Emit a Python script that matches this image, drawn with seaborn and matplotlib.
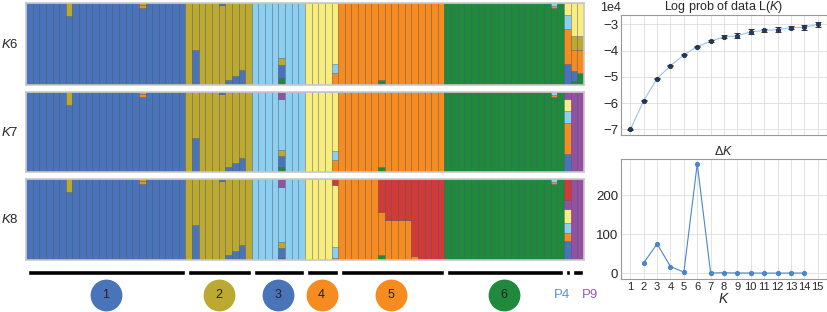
import numpy as np
import pandas as pd
import matplotlib
matplotlib.use("Agg")
import matplotlib.pyplot as plt
import seaborn as sns

# cluster colours (STRUCTURE clusters)
cluster_names = ["blue", "olive", "skyblue", "yellow", "orange", "green", "purple", "red"]
cluster_colors = ["#4a74b9", "#bba931", "#8dcff1", "#f8ee80", "#f68b20", "#1f8a3c", "#9351a0", "#d13b37"]
palette = dict(zip(cluster_names, cluster_colors))

# groups along the bottom
group_labels = ["1", "2", "3", "4", "5", "6", "P4", "P9"]
group_sizes = [24, 10, 8, 5, 16, 18, 1, 2]
circle_colors = ["blue", "olive", "blue", "orange", "orange", "green"]
text_colors = {"P4": "#5b8fd3", "P9": "#9b59b6"}

main_k6 = ["blue", "olive", "skyblue", "yellow", "orange", "green", "blue", "green"]
main_k7 = ["blue", "olive", "skyblue", "yellow", "orange", "green", "blue", "purple"]
main_k8 = ["blue", "olive", "skyblue", "yellow", "orange", "green", "blue", "purple"]

# admixed individuals: index -> stack from bottom to top
mixed_k6 = {
    6: [("blue", 0.84), ("olive", 0.16)],
    17: [("blue", 0.94), ("orange", 0.03), ("olive", 0.03)],
    25: [("blue", 0.43), ("olive", 0.57)],
    29: [("olive", 0.98), ("blue", 0.02)],
    30: [("blue", 0.06), ("olive", 0.94)],
    31: [("blue", 0.11), ("olive", 0.89)],
    32: [("blue", 0.18), ("olive", 0.82)],
    38: [("green", 0.08), ("blue", 0.16), ("olive", 0.09), ("skyblue", 0.67)],
    46: [("orange", 0.15), ("skyblue", 0.11), ("yellow", 0.74)],
    53: [("green", 0.06), ("orange", 0.94)],
    79: [("green", 0.94), ("orange", 0.02), ("skyblue", 0.04)],
    81: [("blue", 0.25), ("orange", 0.43), ("skyblue", 0.17), ("yellow", 0.15)],
    82: [("green", 0.05), ("blue", 0.12), ("orange", 0.26), ("olive", 0.17), ("yellow", 0.40)],
    83: [("green", 0.15), ("orange", 0.28), ("olive", 0.17), ("yellow", 0.40)],
}
mixed_k7 = {
    6: [("blue", 0.84), ("olive", 0.16)],
    17: [("blue", 0.94), ("orange", 0.03), ("olive", 0.03)],
    25: [("blue", 0.43), ("olive", 0.57)],
    29: [("olive", 0.98), ("blue", 0.02)],
    30: [("blue", 0.06), ("olive", 0.94)],
    31: [("blue", 0.11), ("olive", 0.89)],
    32: [("blue", 0.18), ("olive", 0.82)],
    38: [("green", 0.06), ("blue", 0.14), ("olive", 0.08), ("skyblue", 0.63), ("purple", 0.09)],
    46: [("orange", 0.15), ("skyblue", 0.11), ("yellow", 0.74)],
    53: [("green", 0.06), ("orange", 0.94)],
    79: [("green", 0.94), ("orange", 0.02), ("skyblue", 0.04)],
    81: [("blue", 0.23), ("orange", 0.38), ("skyblue", 0.15), ("yellow", 0.15), ("purple", 0.09)],
}
mixed_k8 = {
    6: [("blue", 0.84), ("olive", 0.16)],
    17: [("blue", 0.94), ("orange", 0.03), ("olive", 0.03)],
    25: [("blue", 0.43), ("olive", 0.57)],
    29: [("olive", 0.98), ("blue", 0.02)],
    30: [("blue", 0.06), ("olive", 0.94)],
    31: [("blue", 0.11), ("olive", 0.89)],
    32: [("blue", 0.18), ("olive", 0.82)],
    38: [("green", 0.03), ("blue", 0.12), ("olive", 0.07), ("skyblue", 0.68), ("purple", 0.10)],
    46: [("orange", 0.03), ("skyblue", 0.13), ("yellow", 0.76), ("red", 0.08)],
    53: [("green", 0.06), ("orange", 0.53), ("red", 0.41)],
    54: [("orange", 0.50), ("red", 0.50)],
    55: [("orange", 0.50), ("red", 0.50)],
    56: [("orange", 0.50), ("red", 0.50)],
    57: [("orange", 0.50), ("red", 0.50)],
    58: [("orange", 0.05), ("red", 0.95)],
    59: [("red", 1.0)],
    60: [("red", 1.0)],
    61: [("red", 1.0)],
    62: [("red", 1.0)],
    79: [("green", 0.94), ("orange", 0.02), ("skyblue", 0.04)],
    81: [("blue", 0.23), ("orange", 0.10), ("skyblue", 0.13), ("yellow", 0.17), ("purple", 0.11), ("red", 0.26)],
}

# Evanno plots
K_values = list(range(1, 16))
lnP_mean = [-70000, -59000, -50600, -45700, -41600, -38400, -36400, -34700,
            -34300, -32800, -32300, -32000, -31200, -31100, -30000]
lnP_sd = [100, 150, 150, 150, 200, 250, 350, 600, 900, 900, 600, 900, 600, 900, 1000]
delta_K = [np.nan, 26.6, 75, 17, 2.6, 281, 0.5, 1.0, 0.4, 0.4, 0.1, 0.1, 0.3, 0.3, np.nan]


def stack(main, mixed):
    rows = []
    ind = 0
    for g, n in enumerate(group_sizes):
        for j in range(n):
            parts = mixed.get(ind, [(main[g], 1.0)])
            bottom = 0.0
            for cl, fr in parts:
                rows.append(dict(ind=ind, cluster=cl, frac=fr, bottom=bottom))
                bottom += fr
            ind += 1
    return pd.DataFrame(rows)


sns.set_style("whitegrid")
plt.rcParams["font.family"] = ["Liberation Sans", "DejaVu Sans"]
plt.rcParams["mathtext.fontset"] = "custom"
plt.rcParams["mathtext.rm"] = "Liberation Sans"
plt.rcParams["mathtext.it"] = "Liberation Sans:italic"

W, H = 828, 312
fig = plt.figure(figsize=(W / 100, H / 100), dpi=100)
n_ind = sum(group_sizes)

rows_px = [(3, 85, "6", main_k6, mixed_k6), (92, 172, "7", main_k7, mixed_k7), (179, 260, "8", main_k8, mixed_k8)]
for top, bot, lab, main, mixed in rows_px:
    ax = fig.add_axes([26 / W, 1 - bot / H, 558 / W, (bot - top) / H])
    df = stack(main, mixed)
    ax.bar(df["ind"], df["frac"], bottom=df["bottom"], width=1, align="edge",
           color=df["cluster"].map(palette), edgecolor=(0.05, 0.08, 0.2, 0.35), linewidth=0.5)
    ax.set_xlim(0, n_ind)
    ax.set_ylim(0, 1)
    ax.set_xticks([])
    ax.set_yticks([])
    ax.grid(False)
    for s in ax.spines.values():
        s.set_color("#c8c8c8")
        s.set_linewidth(1.2)
    ax.text(-0.014, 0.5, "$K$" + lab, transform=ax.transAxes, ha="right", va="center", fontsize=9.5)

# group bars and labels
axa = fig.add_axes([26 / W, 0, 558 / W, 50 / H])
axa.set_xlim(0, n_ind)
axa.set_ylim(0, 1)
axa.axis("off")
starts = np.cumsum([0] + group_sizes[:-1])
axa.bar(starts + 0.35, 0.1, bottom=0.74, width=np.array(group_sizes) - 0.45, align="edge", color="black")
centers = starts + np.array(group_sizes) / 2
for i, lab in enumerate(group_labels):
    if lab in text_colors:
        xc = centers[i] + (-0.8 if lab == "P4" else 1.9)
        axa.text(xc, 0.34, lab, ha="center", va="center", fontsize=9.5,
                 color=text_colors[lab], clip_on=False)
    else:
        axa.scatter([centers[i]], [0.34], s=480, color=palette[circle_colors[i]], clip_on=False, zorder=3)
        axa.text(centers[i], 0.34, lab, ha="center", va="center", fontsize=9, color="#222222", zorder=4)

# log prob of data
ax1 = fig.add_axes([621 / W, 1 - 135 / H, 206 / W, 120 / H])
sns.lineplot(x=K_values, y=lnP_mean, ax=ax1, color="#9cc3e5", linewidth=0.8, marker="o",
             markersize=3, markerfacecolor="#1d3f70", markeredgecolor="#1d3f70")
ax1.errorbar(K_values, lnP_mean, yerr=lnP_sd, fmt="none", ecolor="#333333", capsize=2, elinewidth=0.7,
             capthick=0.7)
ax1.set_xlim(0.3, 15.7)
ax1.set_ylim(-72100, -26400)
ax1.set_xticks(K_values)
ax1.set_xticklabels([])
ax1.set_yticks([-70000, -60000, -50000, -40000, -30000])
ax1.ticklabel_format(axis="y", style="sci", scilimits=(0, 0))
off = ax1.yaxis.get_offset_text()
off.set_fontsize(9)
off.set_x(-0.05)
off.set_horizontalalignment("center")
ax1.set_title("Log prob of data L($K$)", fontsize=9, pad=3)

# delta K
ax2 = fig.add_axes([621 / W, 1 - 279 / H, 206 / W, 120 / H])
sns.lineplot(x=K_values, y=delta_K, ax=ax2, color="#4a86c8", linewidth=0.8, marker="o",
             markersize=3, markerfacecolor="#4a86c8", markeredgecolor="#4a86c8")
ax2.set_xlim(0.3, 15.7)
ax2.set_ylim(-15, 293)
ax2.set_xticks(K_values)
ax2.set_yticks([0, 100, 200])
ax2.set_title(r"$\Delta K$", fontsize=9, pad=3)
ax2.set_xlabel("$K$", fontsize=10, labelpad=0)

for ax in (ax1, ax2):
    ax.grid(True, color="#dddddd", linewidth=0.6)
    ax.tick_params(axis="y", labelsize=9.5, length=0, pad=2)
    ax.tick_params(axis="x", labelsize=8, length=0, pad=2)
    for s in ax.spines.values():
        s.set_color("#999999")
        s.set_linewidth(0.8)

fig.savefig("out.png", dpi=100)
